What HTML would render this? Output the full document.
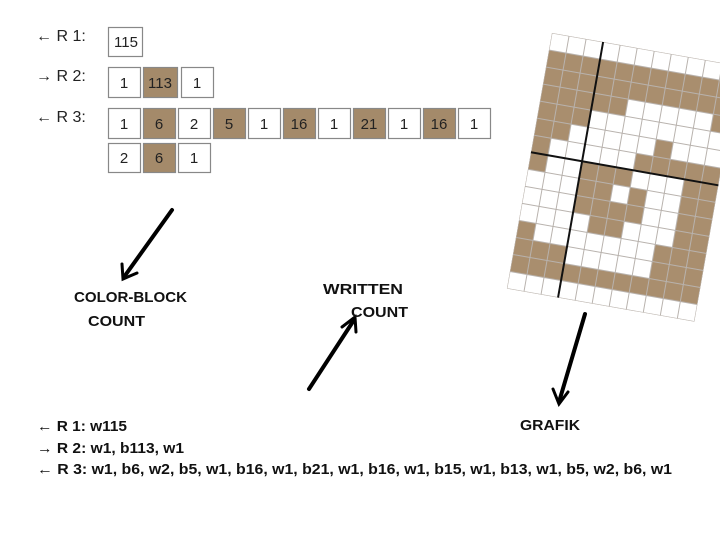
<!DOCTYPE html>
<html><head><meta charset="utf-8"><style>
html,body{margin:0;padding:0;background:#fff;width:720px;height:540px;overflow:hidden}
svg{display:block}
.n{font-family:"Liberation Sans",sans-serif;font-size:15px;fill:#222;text-anchor:middle}
.l{font-family:"Liberation Sans",sans-serif;font-size:16px;fill:#222}
.b{font-family:"Liberation Sans",sans-serif;font-size:15px;font-weight:bold;fill:#111}
</style></head><body>
<svg width="720" height="540" viewBox="0 0 720 540" xmlns="http://www.w3.org/2000/svg">
<defs>
<pattern id="g" width="17.3" height="17.3" patternUnits="userSpaceOnUse">
<rect width="17.3" height="17.3" fill="none" stroke="#b8b2ad" stroke-width="1"/>
</pattern>
</defs>
<text class="l" x="36" y="41">← R 1:</text>
<text class="l" x="36" y="81">→ R 2:</text>
<text class="l" x="36" y="122">← R 3:</text>
<g stroke="#888" stroke-width="1.2">
<rect x="108.5" y="27.5" width="34" height="29" fill="#fff"/>
<rect x="108.5" y="67.5" width="32" height="30" fill="#fff"/>
<rect x="143.5" y="67.5" width="34" height="30" fill="#a48a6a"/>
<rect x="181.5" y="67.5" width="32" height="30" fill="#fff"/>
<rect x="108.5" y="108.5" width="32" height="30" fill="#fff"/>
<rect x="143.5" y="108.5" width="32" height="30" fill="#a48a6a"/>
<rect x="178.5" y="108.5" width="32" height="30" fill="#fff"/>
<rect x="213.5" y="108.5" width="32" height="30" fill="#a48a6a"/>
<rect x="248.5" y="108.5" width="32" height="30" fill="#fff"/>
<rect x="283.5" y="108.5" width="32" height="30" fill="#a48a6a"/>
<rect x="318.5" y="108.5" width="32" height="30" fill="#fff"/>
<rect x="353.5" y="108.5" width="32" height="30" fill="#a48a6a"/>
<rect x="388.5" y="108.5" width="32" height="30" fill="#fff"/>
<rect x="423.5" y="108.5" width="32" height="30" fill="#a48a6a"/>
<rect x="458.5" y="108.5" width="32" height="30" fill="#fff"/>
<rect x="108.5" y="143.5" width="32" height="29" fill="#fff"/>
<rect x="143.5" y="143.5" width="32" height="29" fill="#a48a6a"/>
<rect x="178.5" y="143.5" width="32" height="29" fill="#fff"/>
</g>
<text class="n" x="126" y="47">115</text>
<text class="n" x="124" y="88">1</text>
<text class="n" x="160" y="88">113</text>
<text class="n" x="197" y="88">1</text>
<text class="n" x="124" y="129">1</text>
<text class="n" x="159" y="129">6</text>
<text class="n" x="194" y="129">2</text>
<text class="n" x="229" y="129">5</text>
<text class="n" x="264" y="129">1</text>
<text class="n" x="299" y="129">16</text>
<text class="n" x="334" y="129">1</text>
<text class="n" x="369" y="129">21</text>
<text class="n" x="404" y="129">1</text>
<text class="n" x="439" y="129">16</text>
<text class="n" x="474" y="129">1</text>
<text class="n" x="124" y="163">2</text>
<text class="n" x="159" y="163">6</text>
<text class="n" x="194" y="163">1</text>

<g transform="translate(552,33) rotate(10)">
<rect x="0" y="0" width="190.3" height="259.5" fill="#a98e6e"/>
<g fill="#fff">
<rect x="0" y="0" width="190.3" height="17.3"/>
<rect x="0" y="242.2" width="190.3" height="17.3"/>
<rect x="86.5" y="51.9" width="86.5" height="17.3"/>
<rect x="51.9" y="69.2" width="138.4" height="17.3"/>
<rect x="34.6" y="86.5" width="86.5" height="17.3"/>
<rect x="138.4" y="86.5" width="51.9" height="17.3"/>
<rect x="17.3" y="103.8" width="86.5" height="17.3"/>
<rect x="17.3" y="121.1" width="34.6" height="17.3"/>
<rect x="103.8" y="121.1" width="51.9" height="17.3"/>
<rect x="0" y="138.4" width="51.9" height="17.3"/>
<rect x="86.5" y="138.4" width="17.3" height="17.3"/>
<rect x="121.1" y="138.4" width="34.6" height="17.3"/>
<rect x="0" y="155.7" width="51.9" height="17.3"/>
<rect x="121.1" y="155.7" width="34.6" height="17.3"/>
<rect x="0" y="173" width="69.2" height="17.3"/>
<rect x="103.8" y="173" width="51.9" height="17.3"/>
<rect x="17.3" y="190.3" width="121.1" height="17.3"/>
<rect x="51.9" y="207.6" width="86.5" height="17.3"/>
</g>
<rect x="0" y="0" width="190.3" height="259.5" fill="url(#g)"/>
<line x1="51.9" y1="0" x2="51.9" y2="259.5" stroke="#111" stroke-width="2"/>
<line x1="0" y1="121.1" x2="190.3" y2="121.1" stroke="#111" stroke-width="2"/>
</g>

<g stroke="#000" stroke-width="4" fill="none" stroke-linecap="round">
<line x1="172" y1="210" x2="124" y2="277"/>
<polyline points="122,264 123,279 137,273" stroke-width="3"/>
<line x1="309" y1="389" x2="354" y2="320"/>
<polyline points="342,327 355,317 356,332" stroke-width="3"/>
<line x1="585" y1="314" x2="559" y2="402"/>
<polyline points="553,389 559,404 568,392" stroke-width="3"/>
</g>
<text class="b" x="74" y="302" textLength="113" lengthAdjust="spacingAndGlyphs">COLOR-BLOCK</text>
<text class="b" x="88" y="326" textLength="57" lengthAdjust="spacingAndGlyphs">COUNT</text>
<text class="b" x="323" y="294" textLength="80" lengthAdjust="spacingAndGlyphs">WRITTEN</text>
<text class="b" x="351" y="317" textLength="57" lengthAdjust="spacingAndGlyphs">COUNT</text>
<text class="b" x="520" y="430" textLength="60" lengthAdjust="spacingAndGlyphs">GRAFIK</text>
<text class="b" x="37" y="431" textLength="90" lengthAdjust="spacingAndGlyphs">← R 1: w115</text>
<text class="b" x="37" y="453" textLength="147" lengthAdjust="spacingAndGlyphs">→ R 2: w1, b113, w1</text>
<text class="b" x="37" y="474" textLength="635" lengthAdjust="spacingAndGlyphs">← R 3: w1, b6, w2, b5, w1, b16, w1, b21, w1, b16, w1, b15, w1, b13, w1, b5, w2, b6, w1</text>
</svg>
</body></html>
